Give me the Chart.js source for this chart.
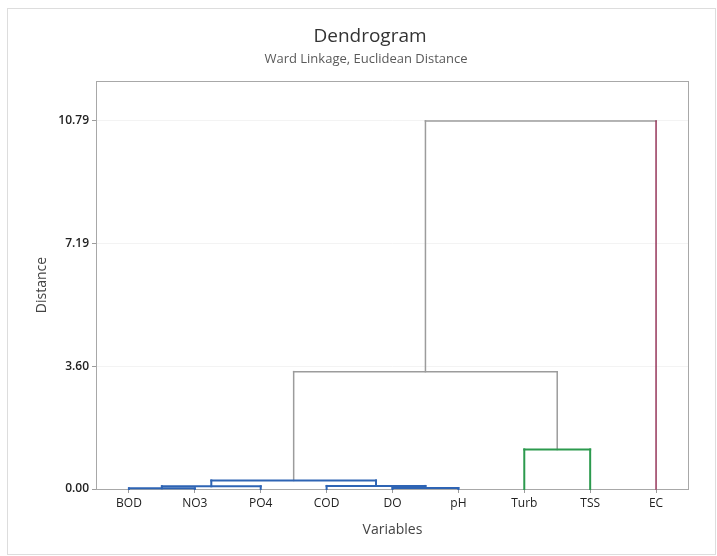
<!DOCTYPE html>
<html>
<head>
<meta charset="utf-8">
<title>Dendrogram</title>
<script src="https://cdn.jsdelivr.net/npm/chart.js@4.4.1/dist/chart.umd.min.js"></script>
<style>
    html, body { margin: 0; padding: 0; background: #fff; }
    #wrap { position: relative; width: 717px; height: 556px; }
    #frame { position: absolute; left: 7px; top: 8px; width: 709px; height: 547px; border: 1px solid #dddddd; box-sizing: border-box; }
    canvas { position: absolute; left: 0; top: 0; }
</style>
</head>
<body>
<div id="wrap">
    <div id="frame"></div>
    <canvas id="dendroChart" width="717" height="556"></canvas>
</div>
<script>
'use strict';

// leaves, in dendrogram order
var variables = ['BOD', 'NO3', 'PO4', 'COD', 'DO', 'pH', 'Turb', 'TSS', 'EC'];
// merge k joins clusters mergeA[k] and mergeB[k] into cluster variables.length + k
var mergeA = [0, 4, 9, 3, 11, 6, 13, 15];
var mergeB = [1, 5, 2, 10, 12, 7, 14, 8];
var mergeHeight = [0.02, 0.03, 0.08, 0.09, 0.25, 1.16, 3.44, 10.79];
// colour group of each leaf / merge (3 = above the cut, grey)
var leafGroup = [0, 0, 0, 0, 0, 0, 1, 1, 2];
var mergeGroup = [0, 0, 0, 0, 0, 1, 3, 3];
var yTickValues = [0, 10.79 / 3, 10.79 * 2 / 3, 10.79];
var yTickLabels = ['0.00', '3.60', '7.19', '10.79'];

var groupColors = ['#2e64b4', '#2c9a4e', '#96365a', '#9c9c9c'];
var groupWidths = [2, 2, 1.5, 1.5];

(function () {
    var pos = [], hgt = [];
    variables.forEach(function (v, i) { pos[i] = i; hgt[i] = 0; });

    var datasets = [];
    function addSegment(x1, y1, x2, y2, group) {
        datasets.push({
            data: [{x: x1, y: y1}, {x: x2, y: y2}],
            showLine: true,
            borderColor: groupColors[group],
            borderWidth: groupWidths[group],
            pointRadius: 0,
            borderCapStyle: 'square',
            clip: false
        });
    }

    mergeA.forEach(function (a, k) {
        var b = mergeB[k];
        var h = mergeHeight[k];
        var id = variables.length + k;
        var g = mergeGroup[k];
        var ga = a < variables.length ? leafGroup[a] : g;
        var gb = b < variables.length ? leafGroup[b] : g;
        addSegment(pos[a], hgt[a], pos[a], h, ga);
        addSegment(pos[b], hgt[b], pos[b], h, gb);
        addSegment(pos[a], h, pos[b], h, g);
        pos[id] = (pos[a] + pos[b]) / 2;
        hgt[id] = h;
    });

    // plot frame and header text
    var decorations = {
        id: 'decorations',
        beforeDatasetsDraw: function (chart) {
            var ctx = chart.ctx, a = chart.chartArea;
            ctx.save();
            ctx.strokeStyle = '#a8a8a8';
            ctx.lineWidth = 1;
            ctx.strokeRect(Math.round(a.left) + 0.5, Math.round(a.top) + 0.5,
                Math.round(a.width) - 1, Math.round(a.height));
            ctx.restore();
        },
        afterDraw: function (chart) {
            var ctx = chart.ctx;
            ctx.save();
            ctx.textAlign = 'center';
            ctx.textBaseline = 'middle';
            ctx.fillStyle = '#333333';
            ctx.font = '19px "Open Sans"';
            ctx.fillText('Dendrogram', 370, 37);
            ctx.fillStyle = '#5a5a5a';
            ctx.font = '13px "Open Sans"';
            ctx.fillText('Ward Linkage, Euclidean Distance', 366, 59);
            ctx.restore();
        }
    };

    new Chart(document.getElementById('dendroChart').getContext('2d'), {
        type: 'scatter',
        data: {datasets: datasets},
        options: {
            responsive: false,
            animation: false,
            events: [],
            layout: {padding: {left: 8, right: 28, top: 81, bottom: 10}},
            plugins: {
                legend: {display: false},
                tooltip: {enabled: false}
            },
            scales: {
                x: {
                    type: 'linear',
                    min: -0.5,
                    max: variables.length - 0.5,
                    afterBuildTicks: function (scale) {
                        scale.ticks = variables.map(function (v, i) { return {value: i}; });
                    },
                    afterFit: function (scale) { scale.height = 57; },
                    ticks: {
                        autoSkip: false,
                        maxRotation: 0,
                        padding: 3,
                        color: '#222222',
                        font: {family: 'Open Sans', size: 12},
                        callback: function (value) { return variables[value]; }
                    },
                    grid: {drawOnChartArea: false, tickLength: 4, tickColor: '#9c9c9c'},
                    border: {display: false},
                    title: {
                        display: true,
                        text: 'Variables',
                        color: '#444444',
                        font: {family: 'Open Sans', size: 14},
                        padding: {top: 0, bottom: 8}
                    }
                },
                y: {
                    min: 0,
                    max: 11.96,
                    afterBuildTicks: function (scale) {
                        scale.ticks = yTickValues.map(function (v) { return {value: v}; });
                    },
                    afterFit: function (scale) { scale.width = 88; },
                    ticks: {
                        padding: 3,
                        color: '#222222',
                        font: {family: 'Open Sans', size: 12, weight: '600'},
                        callback: function (value, index) { return yTickLabels[index]; }
                    },
                    grid: {color: '#f3f3f3', tickLength: 4, tickColor: '#9c9c9c'},
                    border: {display: false},
                    title: {
                        display: true,
                        text: 'Distance',
                        color: '#444444',
                        font: {family: 'Open Sans', size: 14},
                        padding: {top: 26, bottom: 0}
                    }
                }
            }
        },
        plugins: [decorations]
    });
})();
</script>
</body>
</html>
